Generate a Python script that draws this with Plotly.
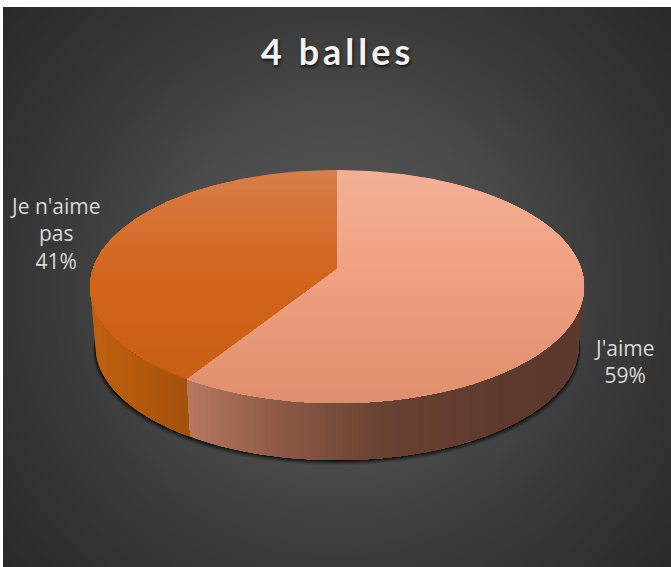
import numpy as np
import plotly.graph_objects as go

# --- data ---
title_text = "4 balles"
labels = ["J'aime", "Je n'aime<br>pas"]
values = [59, 41]

# --- style ---
W, H = 671, 567
PANEL_X0, PANEL_Y0 = 3, 7
CX, CY = 337.0, 268.0        # apex of the pie on screen
A, B, P = 243.9, 113.6, 0.159  # perspective disc
BOTTOM_SCALE, BOTTOM_CY = 0.978, 328.0
top_stops = [
    [(170, "#F2B097"), (260, "#F3A383"), (403, "#DE8F6E")],
    [(170, "#D87F4C"), (235, "#D56D2C"), (280, "#D2651C"), (378, "#C95E16")],
]
wall_stops = [
    [(184, "#BA7A62"), (280, "#8C5A46"), (380, "#6A4333"), (500, "#5E3B2E"), (584, "#5C392C")],
    [(90, "#C0620F"), (130, "#B65B0F"), (187, "#A4510C")],
]
label_pos = [(624, 361), (55, 233)]
glow_r = [0, 172, 280, 430, 520]
glow_v = [92, 74, 58, 42, 38]


def hex2rgb(h):
    return np.array([int(h[i:i + 2], 16) for i in (1, 3, 5)], float)


def colour_at(stops, t):
    xs = [s[0] for s in stops]
    cs = np.array([hex2rgb(s[1]) for s in stops])
    return "rgb(%d,%d,%d)" % tuple(np.interp(t, xs, cs[:, k]) for k in range(3))


def rim(theta_deg, bottom=False):
    th = np.radians(theta_deg)
    w = 1 + P * np.cos(th)
    x = A * np.sin(th) / w
    y = -B * np.cos(th) / w
    if bottom:
        return CX + x * BOTTOM_SCALE, BOTTOM_CY + y * BOTTOM_SCALE
    return CX + x, CY + y


def clip_min(px, py, limit, axis):
    """Keep the part of a polygon with coordinate >= limit on the axis."""
    pts = list(zip(px, py))
    out = []
    for i in range(len(pts)):
        a, b = pts[i], pts[(i + 1) % len(pts)]
        ina, inb = a[axis] >= limit, b[axis] >= limit
        if ina:
            out.append(a)
        if ina != inb:
            t = (limit - a[axis]) / (b[axis] - a[axis])
            out.append((a[0] + t * (b[0] - a[0]), a[1] + t * (b[1] - a[1])))
    if not out:
        return [], []
    return [p[0] for p in out], [p[1] for p in out]


def poly(x, y, colour):
    return go.Scatter(x=list(x) + [x[0]], y=list(y) + [y[0]], mode="lines", fill="toself",
                      fillcolor=colour, line=dict(width=0), hoverinfo="skip", showlegend=False)


fig = go.Figure()

# background: radial glow (cells are laid out so the image stops at the panel edges)
nx, ny = 90, 80
dx, dy = (W - PANEL_X0) / nx, (H - PANEL_Y0) / ny
bx = PANEL_X0 + dx * (np.arange(nx) + 0.5)
by = PANEL_Y0 + dy * (np.arange(ny) + 0.5)
gx, gy = np.meshgrid(bx, by)
r = np.hypot(gx - 337, gy - 287)
z = np.interp(r, glow_r, glow_v)
fig.add_trace(go.Heatmap(x=bx, y=by, z=z, zsmooth="best", zmin=0, zmax=255, showscale=False, hoverinfo="skip",
                         colorscale=[[0, "rgb(0,0,0)"], [1, "rgb(255,255,255)"]]))

# soft contact shadow under the wall
ring = np.linspace(75, 285, 160)
for grow, alpha in [(5, 0.10), (4, 0.14), (3, 0.2), (2, 0.3), (1, 0.45)]:
    sx, sy = rim(ring, bottom=True)
    fig.add_trace(poly(list(sx + np.sign(sx - CX) * grow * 0.5), list(sy + grow), f"rgba(0,0,0,{alpha})"))

total = sum(values)
edges = np.concatenate([[0], np.cumsum(values) / total * 360])
tangent = np.degrees(np.arccos(-P))  # where the top rim is at its widest

# walls then tops: each gradient band paints everything after it, so no seams show
for i in range(len(values)):
    a0, a1 = edges[i], edges[i + 1]
    vis0, vis1 = max(a0, tangent), min(a1, 360 - tangent)
    th = np.linspace(vis0, vis1, 120)
    tx, ty = rim(th)
    ux, uy = rim(th, bottom=True)
    wx, wy = list(tx) + list(ux[::-1]), list(ty) + list(uy[::-1])
    for xk in np.arange(min(wx), max(wx), 4.0):
        cxs, cys = clip_min(wx, wy, xk, 0)
        if cxs:
            fig.add_trace(poly(cxs, cys, colour_at(wall_stops[i], xk + 2)))

for i in range(len(values)):
    th = np.linspace(edges[i], edges[i + 1], 200)
    tx, ty = rim(th)
    px, py = [CX] + list(tx), [CY] + list(ty)
    for yk in np.arange(min(py), max(py), 4.0):
        cxs, cys = clip_min(px, py, yk, 1)
        if cxs:
            fig.add_trace(poly(cxs, cys, colour_at(top_stops[i], yk + 2)))

for lab, val, (lx, ly) in zip(labels, values, label_pos):
    fig.add_annotation(x=lx, y=ly, text=f"{lab}<br>{round(val / total * 100)}%", showarrow=False,
                       font=dict(family="Open Sans, sans-serif", size=21, color="#D9D9D9"),
                       align="center", xanchor="center", yanchor="middle")

fig.add_annotation(x=337, y=51, text=f"<b>{title_text}</b>", showarrow=False, name="title",
                   font=dict(family="Lato, sans-serif", size=36, color="#F2F2F2",
                             shadow="1px 2px 3px rgba(0,0,0,0.7)"),
                   xanchor="center", yanchor="middle")

fig.update_xaxes(range=[0, W], visible=False, fixedrange=True)
fig.update_yaxes(range=[H, 0], visible=False, fixedrange=True)
fig.update_layout(width=W, height=H, margin=dict(l=0, r=0, t=0, b=0),
                  paper_bgcolor="white", plot_bgcolor="white", showlegend=False)

spacing_js = """
document.body.style.margin='0';
document.documentElement.style.overflow='hidden';
document.querySelectorAll('.annotation-text').forEach(function(t){
  if (t.textContent.indexOf('balles') >= 0) { t.style.letterSpacing='4px'; }
});
"""
fig.write_html("out.html", config=dict(displayModeBar=False), post_script=spacing_js)
